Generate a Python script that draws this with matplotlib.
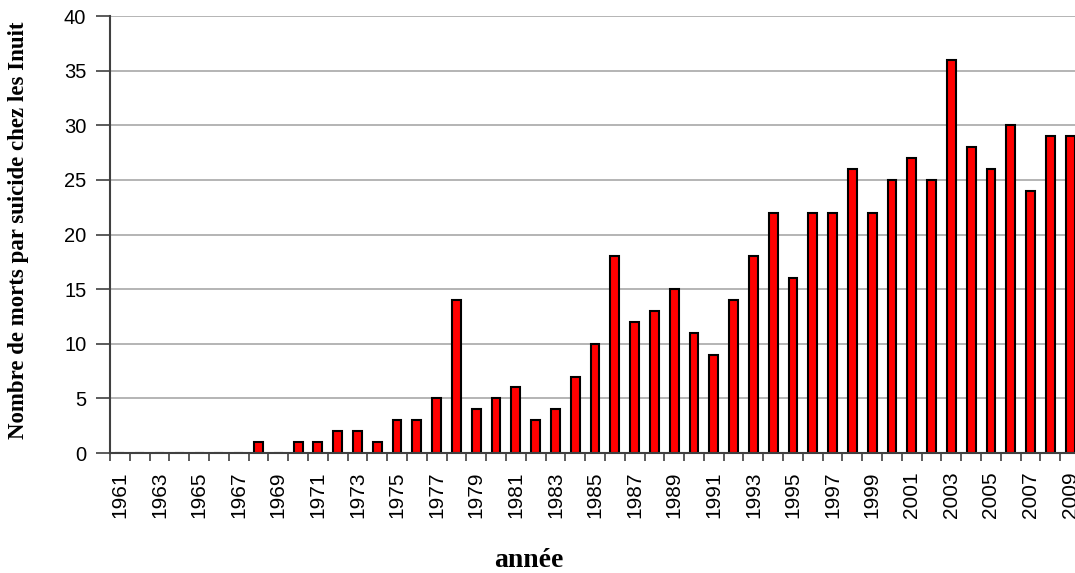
import numpy as np
import matplotlib
matplotlib.use('Agg')
import matplotlib.pyplot as plt

years = list(range(1961, 2010))
deaths = [0, 0, 0, 0, 0, 0, 0, 1, 0, 1,
          1, 2, 2, 1, 3, 3, 5, 14, 4, 5,
          6, 3, 4, 7, 10, 18, 12, 13, 15, 11,
          9, 14, 18, 22, 16, 22, 22, 26, 22, 25,
          27, 25, 36, 28, 26, 30, 24, 29, 29]
tick_labels = [str(y) for y in years[::2]]

fig = plt.figure(figsize=(10.75, 5.73), dpi=100)
ax = fig.add_axes([0.1023, 0.2094, 0.9024, 0.7626])

x = np.arange(len(years))
ax.bar(x, deaths, width=0.45, color='#ff0000', edgecolor='black', linewidth=1.5, zorder=3)

ax.set_xlim(-0.5, len(years) - 0.5)
ax.set_ylim(0, 40)
ax.set_yticks(range(0, 41, 5))
ax.yaxis.grid(True, color='#a8a8a8', linewidth=1.2, zorder=0)

ax.set_xticks(x[::2])
ax.set_xticklabels(tick_labels, rotation=90, fontsize=15, family='Liberation Sans')
ax.set_xticks(np.arange(len(years) + 1) - 0.5, minor=True)
ax.tick_params(axis='x', which='major', length=0, pad=13)
ax.tick_params(axis='x', which='minor', length=6, width=1.2, color='#404040')
ax.tick_params(axis='y', length=10, width=1.2, color='#404040', labelsize=14.5, pad=7)
for lab in ax.get_yticklabels():
    lab.set_family('Liberation Sans')

for s in ['top', 'right']:
    ax.spines[s].set_visible(False)
for s in ['left', 'bottom']:
    ax.spines[s].set_color('#404040')
    ax.spines[s].set_linewidth(1.5)
    ax.spines[s].set_zorder(4)

ax.set_ylabel('Nombre de morts par suicide chez les Inuit', fontsize=16.5,
              fontweight='bold', family='Liberation Serif')
ax.yaxis.set_label_coords(-0.083, 0.51)
fig.text(0.492, 0.0105, 'année', fontsize=20, fontweight='bold',
         family='Liberation Serif', ha='center', va='baseline')

fig.savefig('out.png', dpi=100)
